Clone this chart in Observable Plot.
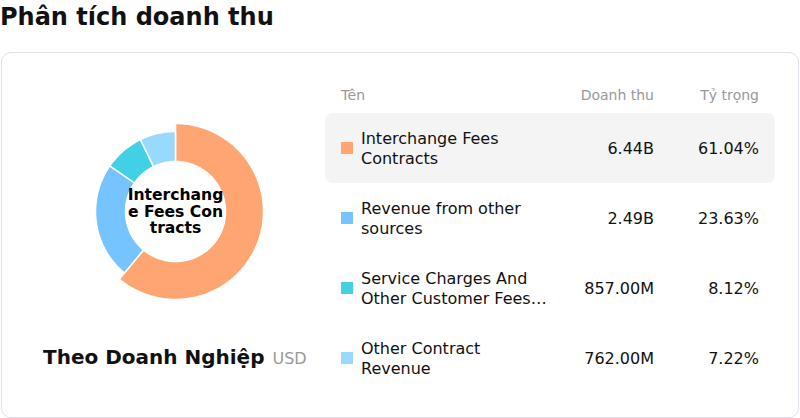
<!DOCTYPE html>
<html><head><meta charset="utf-8">
<script src="https://cdn.jsdelivr.net/npm/d3@7"></script>
<script src="https://cdn.jsdelivr.net/npm/@observablehq/plot@0.6"></script>
<style>
body{margin:0;width:800px;height:418px;overflow:hidden;font-family:"DejaVu Sans",sans-serif;background:#fff;position:relative;color:#111}
#title{position:absolute;left:0;top:3px;font-size:24px;font-weight:bold;line-height:normal;white-space:nowrap}
#card{position:absolute;left:1px;top:52px;width:798px;height:366px;box-sizing:border-box;border:1px solid #e2e0ec;border-radius:10px}
#donut{position:absolute;left:65px;top:101px;width:220px;height:220px}
#sub{position:absolute;left:43px;top:345px;white-space:nowrap;line-height:normal}
#sub b{font-size:20px}
#sub span{font-size:16px;color:#999;margin-left:8px}
.hdr{position:absolute;top:87px;font-size:14px;color:#999;line-height:normal;white-space:nowrap}
.row{position:absolute;left:325px;width:450px;height:70px;border-radius:8px}
.sw{position:absolute;left:16px;top:29px;width:12px;height:12px}
.nm{position:absolute;left:36px;top:50%;transform:translateY(-50%);width:189px;font-size:16px;line-height:19.5px;display:-webkit-box;-webkit-line-clamp:2;-webkit-box-orient:vertical;overflow:hidden}
.v{position:absolute;top:50%;transform:translateY(-50%);font-size:16px;white-space:nowrap;text-align:right;line-height:19px}
</style></head><body>
<div id="title">Phân tích doanh thu</div>
<div id="card"></div>
<div id="donut"></div>
<div id="sub"></div>
<div id="table"></div>
<script>
const categories = ["Interchange Fees Contracts", "Revenue from other sources", "Service Charges And Other Customer Fees And Commissions", "Other Contract Revenue"];
const revenue = [6.44e9, 2.49e9, 857e6, 762e6];
const shares = [61.04, 23.63, 8.12, 7.22];
const colors = ["#FFA572", "#75C3FF", "#42D0E6", "#98D9FE"];
const headers = ["Tên", "Doanh thu", "Tỷ trọng"];
const titleText = "Phân tích doanh thu";
const subtitleText = "Theo Doanh Nghiệp";
const unitText = "USD";
const activeIndex = 0;

document.getElementById("title").textContent = titleText;
document.getElementById("sub").innerHTML = "<b></b><span></span>";
document.querySelector("#sub b").textContent = subtitleText;
document.querySelector("#sub span").textContent = unitText;

// Donut via Plot.geo in a planar (identity) projection
const Rout = 88, Rout2 = 80, Rin = 50;
const arcs = d3.pie().sort(null).value(d => d)(shares);
function ring(a0, a1, ro, ri) {
  const n = Math.max(2, Math.ceil((a1 - a0) / (Math.PI / 180)));
  const pts = [];
  for (let k = 0; k <= n; k++) { const a = a0 + (a1 - a0) * k / n; pts.push([ro * Math.sin(a), -ro * Math.cos(a)]); }
  for (let k = n; k >= 0; k--) { const a = a0 + (a1 - a0) * k / n; pts.push([ri * Math.sin(a), -ri * Math.cos(a)]); }
  pts.push(pts[0]);
  return pts;
}
const slices = arcs.map((p, i) => ({
  type: "Feature",
  properties: {name: categories[i]},
  geometry: {type: "Polygon", coordinates: [ring(p.startAngle, p.endAngle, i === activeIndex ? Rout : Rout2, Rin)]}
}));
const frame = {type: "Polygon", coordinates: [[[-110, -110], [110, -110], [110, 110], [-110, 110], [-110, -110]]]};

const chart = Plot.plot({
  width: 220, height: 220, margin: 0,
  style: {fontFamily: "DejaVu Sans", background: "transparent"},
  projection: {type: "identity", domain: frame},
  color: {domain: categories, range: colors},
  marks: [
    Plot.geo(slices, {fill: d => d.properties.name, stroke: "white", strokeWidth: 1.5}),
    Plot.text([categories[activeIndex]], {
      x: () => 0, y: () => 0,
      text: d => d.match(/.{1,10}/g).join("\n"),
      fontSize: 15.6, fontWeight: "bold", fill: "black", lineHeight: 1.06
    })
  ]
});
document.getElementById("donut").appendChild(chart);

// Table
const fmt = v => v >= 1e9 ? (v / 1e9).toFixed(2) + "B" : (v / 1e6).toFixed(2) + "M";
const tbl = document.getElementById("table");
const hPos = [{left: "341px"}, {right: (800 - 654) + "px"}, {right: (800 - 759) + "px"}];
headers.forEach((h, i) => {
  const d = document.createElement("div");
  d.className = "hdr"; d.textContent = h;
  Object.assign(d.style, hPos[i]);
  tbl.appendChild(d);
});
categories.forEach((c, i) => {
  const row = document.createElement("div");
  row.className = "row";
  row.style.top = (113 + 70 * i) + "px";
  if (i === activeIndex) row.style.background = "#f4f4f4";
  const sw = document.createElement("div"); sw.className = "sw"; sw.style.background = colors[i]; row.appendChild(sw);
  const nm = document.createElement("div"); nm.className = "nm"; nm.textContent = c; row.appendChild(nm);
  const v = document.createElement("div"); v.className = "v"; v.style.right = (450 - 329) + "px"; v.textContent = fmt(revenue[i]); row.appendChild(v);
  const p = document.createElement("div"); p.className = "v"; p.style.right = "16px"; p.textContent = shares[i].toFixed(2) + "%"; row.appendChild(p);
  tbl.appendChild(row);
});
</script>
</body></html>
